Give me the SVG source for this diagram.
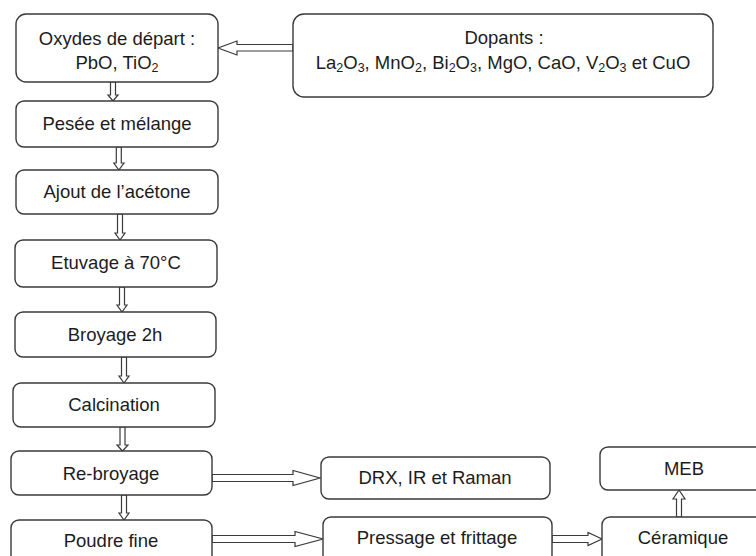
<svg xmlns="http://www.w3.org/2000/svg" width="756" height="556" viewBox="0 0 756 556">
<style>
.box{fill:#ffffff;stroke:#3a3a3a;stroke-width:1.4}
.arr{fill:#ffffff;stroke:#3a3a3a;stroke-width:1.2;stroke-linejoin:miter}
text{font-family:"Liberation Sans",Arial,sans-serif;font-size:18.5px;fill:#1c1c1c;text-anchor:middle}
.s{font-size:12.5px}
</style>
<rect width="756" height="556" fill="#ffffff"/>
<g id="connectors">
<polygon class="arr" points="293,44.5 237,44.5 237,41 218,48 237,55 237,51 293,51"/>
<polygon class="arr" points="110.5,82 115.5,82 115.5,95 118,95 113,101 108,95 110.5,95"/>
<polygon class="arr" points="116.3,147 121.3,147 121.3,163 124,163 118.8,170 113.8,163 116.3,163"/>
<polygon class="arr" points="117.5,214 122.5,214 122.5,233 125,233 120,240 115,233 117.5,233"/>
<polygon class="arr" points="119.5,287 124.5,287 124.5,305 127,305 122,312 117,305 119.5,305"/>
<polygon class="arr" points="121.5,357 126.5,357 126.5,376 129,376 124,383 119,376 121.5,376"/>
<polygon class="arr" points="120,427 125,427 125,445 128,445 122.5,451 117,445 120,445"/>
<polygon class="arr" points="121.5,495 126.5,495 126.5,513 129,513 124,520 119,513 121.5,513"/>
<polygon class="arr" points="212,474.5 293,474.5 293,470.5 320,478 293,485.5 293,481.5 212,481.5"/>
<polygon class="arr" points="212,535.5 295,535.5 295,531.5 323,539 295,546.5 295,542.5 212,542.5"/>
<polygon class="arr" points="552,535.5 588,535.5 588,532.5 602,539 588,545.5 588,542.5 552,542.5"/>
<polygon class="arr" points="676.5,517 681.5,517 681.5,499 685,499 679,490 673,499 676.5,499"/>
</g>
<g id="n-oxydes"><rect class="box" x="16" y="14" width="202" height="68" rx="10"/>
<text x="117" y="45">Oxydes de départ :</text>
<text x="117" y="69">PbO, TiO<tspan class="s" dy="3">2</tspan></text></g>
<g id="n-dopants"><rect class="box" x="293" y="14" width="420" height="83" rx="11"/>
<text x="504" y="44">Dopants :</text>
<text x="503" y="69">La<tspan class="s" dy="3">2</tspan><tspan dy="-3">O</tspan><tspan class="s" dy="3">3</tspan><tspan dy="-3">, MnO</tspan><tspan class="s" dy="3">2</tspan><tspan dy="-3">, Bi</tspan><tspan class="s" dy="3">2</tspan><tspan dy="-3">O</tspan><tspan class="s" dy="3">3</tspan><tspan dy="-3">, MgO, CaO, V</tspan><tspan class="s" dy="3">2</tspan><tspan dy="-3">O</tspan><tspan class="s" dy="3">3</tspan><tspan dy="-3"> et CuO</tspan></text></g>
<g id="n-pesee"><rect class="box" x="16" y="101" width="202" height="46" rx="8"/>
<text x="117" y="130">Pesée et mélange</text></g>
<g id="n-ajout"><rect class="box" x="16" y="170" width="202" height="44" rx="8"/>
<text x="117" y="198">Ajout de l’acétone</text></g>
<g id="n-etuvage"><rect class="box" x="15" y="240" width="202" height="47" rx="8"/>
<text x="116" y="269">Etuvage à 70°C</text></g>
<g id="n-broyage"><rect class="box" x="15" y="312" width="201" height="45" rx="8"/>
<text x="115" y="341">Broyage 2h</text></g>
<g id="n-calcination"><rect class="box" x="13" y="383" width="202" height="44" rx="8"/>
<text x="114" y="411">Calcination</text></g>
<g id="n-rebroyage"><rect class="box" x="11" y="451" width="201" height="44" rx="8"/>
<text x="111" y="480">Re-broyage</text></g>
<g id="n-poudre"><rect class="box" x="11" y="520" width="201" height="46" rx="8"/>
<text x="111" y="547">Poudre fine</text></g>
<g id="n-drx"><rect class="box" x="321" y="457" width="229" height="42" rx="8"/>
<text x="435" y="484">DRX, IR et Raman</text></g>
<g id="n-pressage"><rect class="box" x="323" y="517" width="229" height="46" rx="8"/>
<text x="437" y="544">Pressage et frittage</text></g>
<g id="n-meb"><rect class="box" x="600" y="447" width="166" height="43" rx="8"/>
<text x="684" y="475">MEB</text></g>
<g id="n-ceramique"><rect class="box" x="602" y="517" width="164" height="46" rx="8"/>
<text x="683" y="544">Céramique</text></g>
</svg>
